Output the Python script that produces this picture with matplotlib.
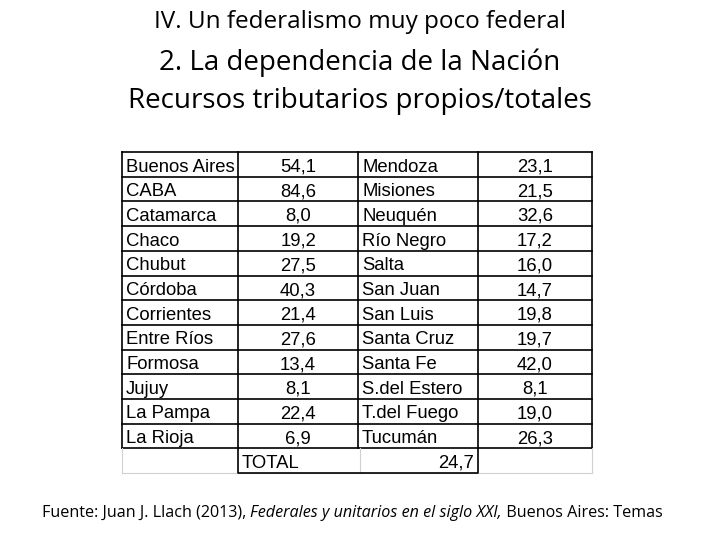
import matplotlib.pyplot as plt

# data
left_names = ['Buenos Aires', 'CABA', 'Catamarca', 'Chaco', 'Chubut', 'Córdoba',
              'Corrientes', 'Entre Ríos', 'Formosa', 'Jujuy', 'La Pampa', 'La Rioja']
left_vals = ['54,1', '84,6', '8,0', '19,2', '27,5', '40,3',
             '21,4', '27,6', '13,4', '8,1', '22,4', '6,9']
right_names = ['Mendoza', 'Misiones', 'Neuquén', 'Río Negro', 'Salta', 'San Juan',
               'San Luis', 'Santa Cruz', 'Santa Fe', 'S.del Estero', 'T.del Fuego', 'Tucumán']
right_vals = ['23,1', '21,5', '32,6', '17,2', '16,0', '14,7',
              '19,8', '19,7', '42,0', '8,1', '19,0', '26,3']
total_label = 'TOTAL'
total_val = '24,7'

title1 = 'IV. Un federalismo muy poco federal'
title2 = '2. La dependencia de la Nación'
title3 = 'Recursos tributarios propios/totales'
source = [('Fuente: Juan J. Llach (2013), ', 'normal'),
          ('Federales y unitarios en el siglo XXI,', 'italic'),
          (' Buenos Aires: Temas', 'normal')]

fig = plt.figure(figsize=(7.2, 5.4), dpi=100)
ax = fig.add_axes([0, 0, 1, 1])
ax.set_xlim(0, 720)
ax.set_ylim(540, 0)
ax.axis('off')

tfont = ['Open Sans', 'DejaVu Sans']
ax.text(360, 22, title1, ha='center', va='center', fontsize=17.5, family=tfont)
ax.text(360, 63, title2, ha='center', va='center', fontsize=20, family=tfont)
ax.text(360, 101, title3, ha='center', va='center', fontsize=20, family=tfont)

# table layout
col_x = [122, 238, 358, 478, 592]
top = 152
row_h = 24.7
nrows = len(left_names)
bottom = top + nrows * row_h
cfont = ['Liberation Sans', 'DejaVu Sans']
fs = 13.3
base = 19.5  # baseline offset inside a row

for i in range(nrows):
    yb = top + i * row_h + base
    ax.text(col_x[0] + 4, yb, left_names[i], ha='left', va='baseline', fontsize=fs, family=cfont)
    ax.text((col_x[1] + col_x[2]) / 2, yb, left_vals[i], ha='center', va='baseline', fontsize=fs, family=cfont)
    ax.text(col_x[2] + 4, yb, right_names[i], ha='left', va='baseline', fontsize=fs, family=cfont)
    ax.text((col_x[3] + col_x[4]) / 2, yb, right_vals[i], ha='center', va='baseline', fontsize=fs, family=cfont)

lw = 1.2
for x in col_x:
    ax.plot([x, x], [top, bottom], color='black', lw=lw, solid_capstyle='projecting')
for i in range(nrows + 1):
    y = top + i * row_h
    ax.plot([col_x[0], col_x[-1]], [y, y], color='black', lw=lw, solid_capstyle='projecting')

# total row: light grid + black box around the middle
ty0, ty1 = bottom, bottom + row_h
grey = '#d0d0d0'
for x in [col_x[0], col_x[2] + 2, col_x[-1]]:
    ax.plot([x, x], [ty0, ty1], color=grey, lw=0.8)
ax.plot([col_x[0], col_x[-1]], [ty1, ty1], color=grey, lw=0.8)
ax.plot([col_x[1], col_x[1], col_x[3], col_x[3]], [ty0, ty1, ty1, ty0], color='black', lw=lw)
ax.text(col_x[1] + 4, ty0 + base, total_label, ha='left', va='baseline', fontsize=fs, family=cfont)
ax.text(col_x[3] - 4, ty0 + base, total_val, ha='right', va='baseline', fontsize=fs, family=cfont)

# source line with mixed styles
fig.canvas.draw()
r = fig.canvas.get_renderer()
x = 42
for txt, style in source:
    t = ax.text(x, 517, txt, ha='left', va='baseline', fontsize=11.6, style=style, family=tfont)
    bb = t.get_window_extent(renderer=r)
    x = ax.transData.inverted().transform((bb.x1, bb.y0))[0]

fig.savefig('out.png', dpi=100, facecolor='white')
